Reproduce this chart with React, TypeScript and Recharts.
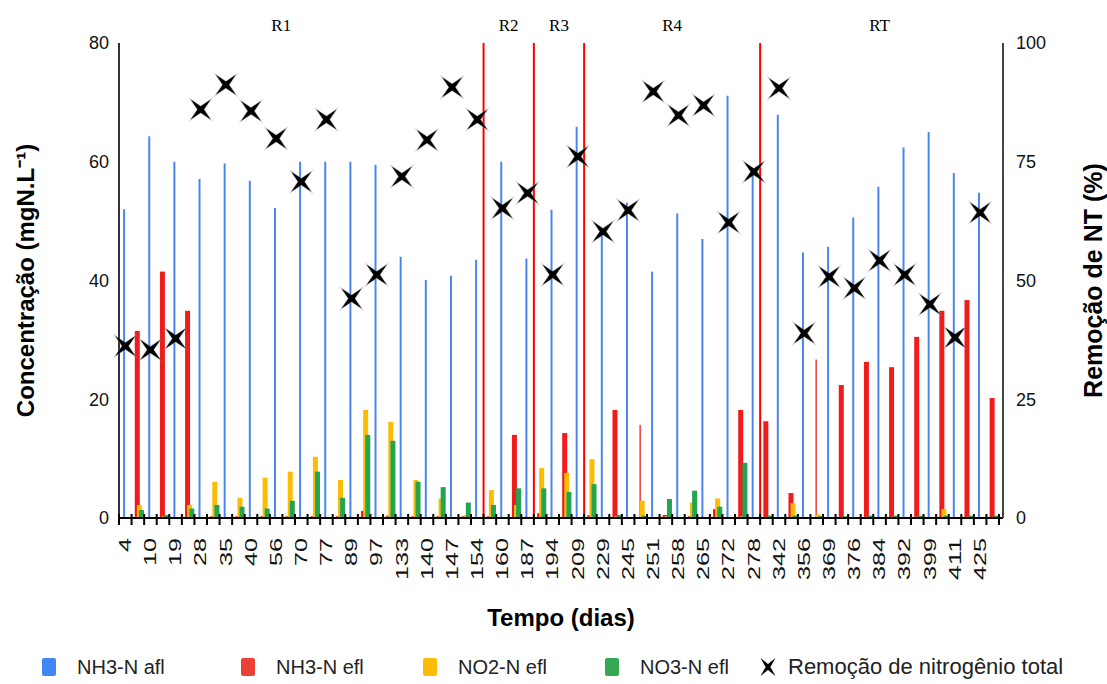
import React from "react";
import {
  ComposedChart,
  Bar,
  Line,
  XAxis,
  YAxis,
  ReferenceLine,
  ReferenceArea,
} from "recharts";

// days of operation (x categories)
const days = [
  4, 10, 19, 28, 35, 40, 56, 70, 77, 89, 97, 133, 140, 147, 154, 160, 187, 194,
  209, 229, 245, 251, 258, 265, 272, 278, 342, 356, 369, 376, 384, 392, 399, 411, 425,
];

// mgN/L
const nh3Afl = [
  52, 64.3, 60, 57.1, 59.7, 56.8, 52.2, 60, 60, 60, 59.5, 44, 40.1, 40.8, 43.5, 60,
  43.7, 51.9, 65.9, 48, 53.1, 41.5, 51.3, 47, 71.1, 58.3, 67.9, 44.7, 45.7, 50.6,
  55.8, 62.4, 65, 58.1, 54.8,
];
const nh3Efl = [
  31.5, 41.5, 34.9, 0.3, 0.3, 0.3, 0.3, 0.3, 0.3, 1.2, 0.4, 0.3, 0.3, 0.3, 0.3, 14,
  0.8, 14.3, 0.5, 18.2, 15.7, 0.5, 0.3, 1.5, 18.2, 16.3, 4.2, 26.7, 22.4, 26.3,
  25.4, 30.5, 34.9, 36.7, 20.2,
];
const no2Efl = [
  2.2, 0.3, 2.2, 6.1, 3.4, 6.8, 7.8, 10.3, 6.4, 18.2, 16.2, 6.4, 3.3, 0.5, 4.7, 2.2,
  8.4, 7.6, 9.9, 0.3, 2.9, 0.3, 2.6, 3.3, 0.3, 0.2, 2.5, 0.6, 0.2, 0.2, 0.2, 0.2,
  1.5, 0.2, 0.2,
];
const no3Efl = [
  1.35, 0.5, 1.6, 2.2, 1.9, 1.6, 2.9, 7.8, 3.4, 14, 13, 6.1, 5.2, 2.6, 2.2, 5, 5,
  4.4, 5.7, 0.5, 0.4, 3.2, 4.6, 1.9, 9.3, 0.4, 0.4, 0.3, 0.3, 0.4, 0.4, 0.4, 0.4,
  0.4, 0.4,
];
// % total nitrogen removal
const removal = [
  36.2, 35.4, 37.8, 86, 91.2, 85.7, 79.9, 70.8, 83.9, 46.2, 51.2, 71.9, 79.6, 90.7,
  83.9, 65.2, 68.4, 51.2, 76.1, 60.3, 64.8, 89.8, 84.8, 86.9, 62.2, 72.9, 90.5,
  38.9, 50.8, 48.4, 54.2, 51.2, 45, 38, 64.3,
];
// effluent NH3 points drawn as a hairline in the original
const thinRedDays = [245, 356];

const phaseNames = ["R1", "R2", "R3", "R4", "RT"];
const phaseBreaks = [154, 187, 209, 278];

const FONT = "'Liberation Sans', Arial, Helvetica, sans-serif";
const BLUE = "#4a86f0";
const RED = "#f01c1c";
const YELLOW = "#fbbc04";
const GREEN = "#22a552";

const legendItems = [
  { label: "NH3-N afl", color: "#4285f4" },
  { label: "NH3-N efl", color: "#ea4335" },
  { label: "NO2-N efl", color: "#fbbc04" },
  { label: "NO3-N efl", color: "#34a853" },
];
const legendWidths = [199, 182, 182, 153];

// every day gets two slots: influent bar + removal mark, then effluent bars
const rows = days.flatMap((d, i) => [
  { key: String(d), afl: nh3Afl[i], rem: removal[i] },
  {
    key: `${d}e`,
    efl: nh3Efl[i],
    no2: no2Efl[i],
    no3: no3Efl[i],
    thin: thinRedDays.includes(d),
  },
]);
const lastKey = rows[rows.length - 1].key;

const STAR = "M-10,-10 L0,-3.2 L10,-10 L3.2,0 L10,10 L0,3.2 L-10,10 L-3.2,0 Z";

function DayTick(props: any) {
  const { x, y, payload } = props;
  const half = typeof payload?.offset === "number" && payload.offset > 0 ? payload.offset : 6.29;
  const value = String(payload.value);
  const isLabel = !value.endsWith("e");
  return (
    <g>
      <line x1={x - half} x2={x - half} y1={y - 4} y2={y + 7} stroke="#000" strokeWidth={2} />
      {value === lastKey && (
        <line x1={x + half} x2={x + half} y1={y - 4} y2={y + 7} stroke="#000" strokeWidth={2} />
      )}
      {isLabel && (
        <text
          transform={`translate(${x},${y + 20}) rotate(-90)`}
          textAnchor="end"
          dy="0.36em"
          fontSize={16}
          fill="#111"
          fontFamily={FONT}
          textLength={value.length * 14}
          lengthAdjust="spacingAndGlyphs"
        >
          {value}
        </text>
      )}
    </g>
  );
}

function RedBar(props: any) {
  const { x, y, width, height, fill, payload } = props;
  if (!height || height <= 0) return <g />;
  const w = payload?.thin ? 1.3 : width;
  const bx = payload?.thin ? x + width / 2 - w / 2 : x;
  return <rect x={bx} y={y} width={w} height={height} fill={fill} />;
}

function StarDot(props: any) {
  const { cx, cy, value, index } = props;
  if (value == null || cx == null || cy == null) return <g key={`s${index}`} />;
  return (
    <g key={`s${index}`} transform={`translate(${cx},${cy})`}>
      <path d={STAR} fill="#888" opacity={0.45} transform="scale(1.25)" />
      <path d={STAR} fill="#000" />
    </g>
  );
}

export default function App() {
  const tickStyle = { fill: "#111", fontSize: 18, fontFamily: FONT };
  const titleStyle = { textAnchor: "middle" as const, fontWeight: 700, fontSize: 24, fill: "#000", fontFamily: FONT };
  return (
    <div style={{ position: "absolute", left: 0, top: 0, width: 1107, height: 684, background: "#fff" }}>
      <ComposedChart
        width={1107}
        height={640}
        data={rows}
        margin={{ top: 43, right: 0, bottom: 0, left: 0 }}
        barGap={-2.9}
      >
        <XAxis
          xAxisId="top"
          orientation="top"
          dataKey="key"
          height={0}
          tick={false}
          tickLine={false}
          axisLine={{ stroke: "#000", strokeWidth: 2.5 }}
          padding={{ left: 0, right: 4 }}
        />
        <XAxis
          dataKey="key"
          height={122}
          interval={0}
          tick={<DayTick />}
          tickLine={false}
          tickSize={0}
          tickMargin={0}
          axisLine={{ stroke: "#000", strokeWidth: 2 }}
          padding={{ left: 0, right: 4 }}
          label={{ value: "Tempo (dias)", position: "insideBottom", offset: 14, style: titleStyle }}
        />
        <YAxis
          yAxisId="left"
          domain={[0, 80]}
          ticks={[0, 20, 40, 60, 80]}
          width={119}
          axisLine={{ stroke: "#333", strokeWidth: 2 }}
          tickLine={false}
          tickSize={0}
          tickMargin={10}
          tick={tickStyle}
          label={{ value: "Concentração (mgN.L⁻¹)", angle: -90, position: "insideLeft", offset: 25, style: titleStyle }}
        />
        <YAxis
          yAxisId="right"
          orientation="right"
          domain={[0, 100]}
          ticks={[0, 25, 50, 75, 100]}
          width={104}
          axisLine={{ stroke: "#444", strokeWidth: 2 }}
          tickLine={false}
          tickSize={0}
          tickMargin={13}
          tick={tickStyle}
          label={{ value: "Remoção de NT (%)", angle: -90, position: "insideRight", offset: 14, style: { ...titleStyle, fontSize: 25 } }}
        />
        {phaseNames.map((name, i) => (
          <ReferenceArea
            key={name}
            yAxisId="left"
            x1={i === 0 ? undefined : `${phaseBreaks[i - 1]}e`}
            x2={i < phaseBreaks.length ? String(phaseBreaks[i]) : undefined}
            fill="none"
            fillOpacity={0}
            stroke="none"
            label={{
              value: name,
              position: "top",
              offset: 12,
              dx: i === 0 ? -20 : 0,
              fill: "#000",
              fontSize: 17,
              fontFamily: "'Liberation Serif', 'Times New Roman', serif",
            }}
          />
        ))}
        <Bar yAxisId="left" dataKey="pad" barSize={7} fill="none" legendType="none" isAnimationActive={false} />
        <Bar yAxisId="left" dataKey="afl" barSize={2} fill={BLUE} isAnimationActive={false} />
        <Bar yAxisId="left" dataKey="efl" barSize={5} fill={RED} shape={RedBar} isAnimationActive={false} />
        <Bar yAxisId="left" dataKey="no2" barSize={5} fill={YELLOW} isAnimationActive={false} />
        <Bar yAxisId="left" dataKey="no3" barSize={5} fill={GREEN} isAnimationActive={false} />
        {phaseBreaks.map((d) => (
          <ReferenceLine
            key={d}
            yAxisId="left"
            x={`${d}e`}
            position="start"
            stroke="#ff0000"
            strokeWidth={2}
          />
        ))}
        <Line
          yAxisId="right"
          dataKey="rem"
          stroke="none"
          dot={StarDot}
          activeDot={false}
          isAnimationActive={false}
          legendType="none"
        />
      </ComposedChart>
      <div
        style={{
          position: "absolute",
          top: 654,
          left: 42,
          display: "flex",
          alignItems: "center",
          fontFamily: FONT,
          fontSize: 20,
          color: "#222",
        }}
      >
        {legendItems.map((it, i) => (
          <div key={it.label} style={{ display: "flex", alignItems: "center", width: legendWidths[i] }}>
            <span style={{ width: 14, height: 18, borderRadius: 2, background: it.color, marginRight: 21 }} />
            <span>{it.label}</span>
          </div>
        ))}
        <div style={{ display: "flex", alignItems: "center" }}>
          <svg width={20} height={20} style={{ marginRight: 10 }}>
            <path d={STAR} fill="#000" transform="translate(10,10) scale(0.75,0.9)" />
          </svg>
          <span style={{ fontSize: 22 }}>Remoção de nitrogênio total</span>
        </div>
      </div>
    </div>
  );
}
